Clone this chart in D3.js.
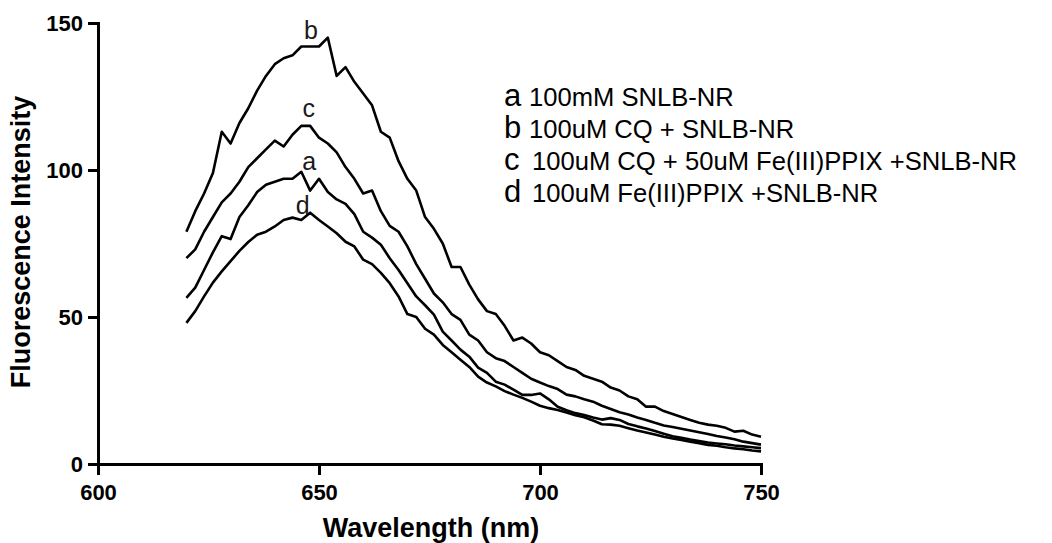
<!DOCTYPE html>
<html>
<head>
<meta charset="utf-8">
<script src="https://cdn.jsdelivr.net/npm/d3@7"></script>
<style>
    body { margin: 0; background: #fff; }
    svg { display: block; font-family: "Liberation Sans", Arial, sans-serif; }
    .axis path, .axis line { stroke: #000; stroke-width: 3; }
    .axis text { font-size: 22px; font-weight: bold; fill: #000; }
    .title { font-size: 27px; font-weight: bold; fill: #000; }
    .line { fill: none; stroke: #000; stroke-width: 2.6; stroke-linejoin: round; }
</style>
</head>
<body>
<div id="chart"></div>
<script>
// wavelength grid (nm)
var wavelength = [620, 622, 624, 626, 628, 630, 632, 634, 636, 638, 640, 642, 644, 646, 648, 650,
    652, 654, 656, 658, 660, 662, 664, 666, 668, 670, 672, 674, 676, 678, 680, 682, 684, 686, 688,
    690, 692, 694, 696, 698, 700, 702, 704, 706, 708, 710, 712, 714, 716, 718, 720, 722, 724, 726,
    728, 730, 732, 734, 736, 738, 740, 742, 744, 746, 748, 750];

// fluorescence readings per sample
var seriesA = [56.5, 60, 66, 72, 77.5, 76.5, 84, 88, 92.5, 95, 96, 97, 97, 99.4, 93, 97,
    92.5, 90, 88.5, 85, 79, 77, 74.6, 70, 66, 61.5, 57, 54, 50.8, 45, 42, 38.9, 36.5, 32.8, 31,
    28, 27, 25.3, 23.5, 23.5, 24, 22, 19.5, 18.3, 17.3, 16.7, 15.8, 15.1, 15.6, 15, 13.6, 12.8, 12.1, 11.2,
    10.3, 9.4, 8.9, 8.3, 7.8, 7.3, 7, 6.7, 6.3, 6, 5.7, 5.4];
var seriesB = [79, 86, 92, 99, 113, 109, 116, 121, 127, 132, 136, 138, 139, 142, 142, 142,
    145, 132, 135, 130, 126, 122, 113, 111, 103, 97, 93, 84, 80, 75, 67, 67, 61, 56, 52,
    51, 47, 42, 43, 41, 38, 37, 35, 33, 32, 30, 29, 28, 26, 25, 23, 22, 19.5, 19.5,
    18, 17, 16, 15, 14, 13.4, 13, 12.3, 11, 11.3, 10, 9.3];
var seriesC = [70, 73, 79, 84, 89, 92, 96, 101, 104, 107, 110, 108, 112, 115, 115, 111,
    109, 106, 101, 97, 92, 93, 86, 81, 79, 74, 68, 63, 58, 55, 51, 49, 44, 42, 38,
    36, 35, 33, 31, 29, 27.7, 26.5, 25.5, 23.6, 23, 22, 21.2, 19.8, 18.7, 17.6, 16.8, 15.8, 15, 14,
    13.1, 12.6, 12, 11.4, 10.8, 10.2, 9.5, 9, 8.4, 7.6, 7.1, 6.6];
var seriesD = [48, 52, 57, 61.7, 65.5, 69, 72.5, 75.5, 78, 79, 80.8, 83, 83.8, 83, 85.5, 83,
    80.8, 78.5, 75.6, 74, 69.5, 68, 65, 61.5, 57, 51, 50, 46, 44, 40.5, 38, 35.5, 33, 29.7, 27.7,
    26.4, 24.8, 23.6, 22.5, 21.2, 19.8, 19, 18.4, 17.5, 16.6, 15.9, 14.8, 13.5, 13.4, 13, 12.2, 11.4, 10.7, 10,
    9.3, 8.7, 8.2, 7.6, 7.1, 6.5, 6.2, 5.7, 5.3, 5, 4.6, 4.3];

// curve letters, where they sit on the plot, and legend text
var seriesKeys = ['a', 'b', 'c', 'd'];
var labelX = [647.8, 648.2, 647.7, 646.3];
var labelY = [103, 147.5, 121, 88];
var legendText = ['100mM SNLB-NR', '100uM CQ + SNLB-NR',
    '100uM CQ + 50uM Fe(III)PPIX +SNLB-NR', '100uM Fe(III)PPIX +SNLB-NR'];

// ticks
var xTicks = [600, 650, 700, 750];
var yTicks = [0, 50, 100, 150];

var width = 1052,
    height = 543,
    margin = { left: 98, right: 291, top: 23, bottom: 79 };

var xScale = d3.scaleLinear().domain([600, 750]).range([margin.left, width - margin.right]);
var yScale = d3.scaleLinear().domain([0, 150]).range([height - margin.bottom, margin.top]);

var svg = d3.select('#chart').append('svg')
    .attr('width', width)
    .attr('height', height);

// axes
var xAxis = d3.axisBottom(xScale).tickValues(xTicks).tickSize(11).tickSizeOuter(0).tickPadding(9)
    .tickFormat(d3.format('d'));
var yAxis = d3.axisLeft(yScale).tickValues(yTicks).tickSize(10).tickSizeOuter(0).tickPadding(5)
    .tickFormat(d3.format('d'));

svg.append('g')
    .attr('class', 'axis x')
    .attr('transform', 'translate(0,' + yScale(0) + ')')
    .call(xAxis);

svg.append('g')
    .attr('class', 'axis y')
    .attr('transform', 'translate(' + xScale(600) + ',0)')
    .call(yAxis);

svg.selectAll('.axis path').attr('stroke-linecap', 'square');

// axis titles
svg.append('text')
    .attr('class', 'title x')
    .attr('text-anchor', 'middle')
    .attr('x', 431)
    .attr('y', 537)
    .text('Wavelength (nm)');

svg.append('text')
    .attr('class', 'title y')
    .attr('text-anchor', 'middle')
    .attr('transform', 'translate(30,242) rotate(-90)')
    .text('Fluorescence Intensity');

// lines
var series = [seriesA, seriesB, seriesC, seriesD];
var line = d3.line()
    .x(function (d, i) { return xScale(wavelength[i]); })
    .y(function (d) { return yScale(d); });

svg.append('g').selectAll('path')
    .data(series)
    .enter().append('path')
    .attr('class', 'line')
    .attr('d', line);

// letters next to the peaks
svg.append('g').selectAll('text')
    .data(seriesKeys)
    .enter().append('text')
    .attr('x', function (d, i) { return xScale(labelX[i]); })
    .attr('y', function (d, i) { return yScale(labelY[i]); })
    .attr('text-anchor', 'middle')
    .attr('dominant-baseline', 'central')
    .attr('font-size', 25)
    .attr('fill', '#1a1a1a')
    .text(function (d) { return d; });

// legend
var legend = svg.append('g').attr('transform', 'translate(504,106)');
var rows = legend.selectAll('g')
    .data(seriesKeys)
    .enter().append('g')
    .attr('transform', function (d, i) { return 'translate(0,' + (i * 32) + ')'; });

rows.append('text')
    .attr('font-size', 31)
    .attr('fill', '#000')
    .text(function (d) { return d; });

rows.append('text')
    .attr('x', function (d, i) { return i < 2 ? 25 : 28; })
    .attr('font-size', 25.6)
    .attr('fill', '#000')
    .text(function (d, i) { return legendText[i]; });
</script>
</body>
</html>
